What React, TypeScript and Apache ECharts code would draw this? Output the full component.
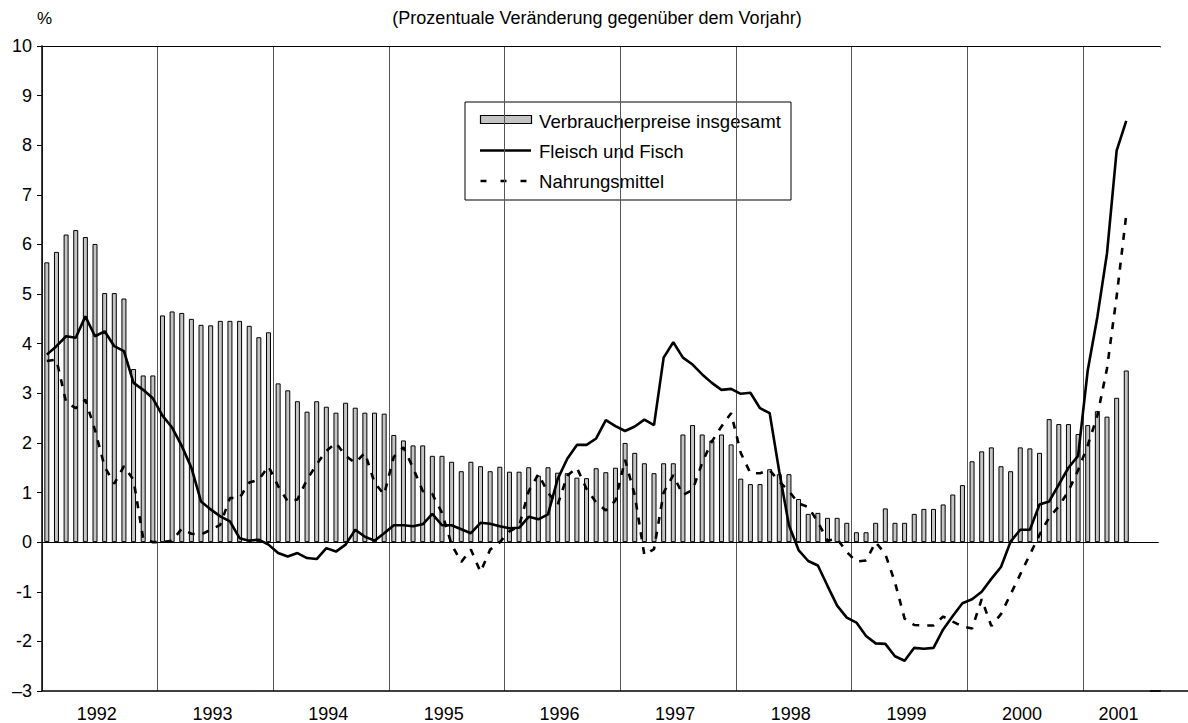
import React, { useEffect, useRef } from "react";
import * as echarts from "echarts";

const YEARS = ["1992", "1993", "1994", "1995", "1996", "1997", "1998", "1999", "2000", "2001"];
const MONTHS_IN_AXIS = [12, 12, 12, 12, 12, 12, 12, 12, 12, 8];

// Verbraucherpreise insgesamt (bars)
const consumerPrices = [
  5.64, 5.85, 6.2, 6.29, 6.15, 6.01, 5.02, 5.02, 4.91, 3.49, 3.36, 3.36,
  4.57, 4.65, 4.62, 4.5, 4.38, 4.37, 4.46, 4.46, 4.46, 4.36, 4.13, 4.23,
  3.2, 3.06, 2.84, 2.63, 2.84, 2.73, 2.61, 2.81, 2.71, 2.61, 2.61, 2.59,
  2.16, 2.05, 1.95, 1.95, 1.74, 1.74, 1.62, 1.43, 1.62, 1.53, 1.43, 1.52,
  1.42, 1.42, 1.51, 1.34, 1.51, 1.4, 1.39, 1.3, 1.29, 1.49, 1.41, 1.5,
  2.0, 1.8, 1.59, 1.39, 1.59, 1.59, 2.17, 2.36, 2.17, 2.05, 2.17, 1.97,
  1.28, 1.17, 1.17, 1.47, 1.37, 1.37, 0.87, 0.57, 0.59, 0.49, 0.49, 0.39,
  0.2, 0.2, 0.39, 0.68, 0.39, 0.39, 0.57, 0.67, 0.67, 0.76, 0.96, 1.15,
  1.63, 1.83, 1.91, 1.53, 1.43, 1.91, 1.89, 1.8, 2.48, 2.38, 2.38, 2.18,
  2.36, 2.64, 2.53, 2.91, 3.46,
];

// Fleisch und Fisch (solid line)
const meatFish = [
  3.78, 3.95, 4.15, 4.12, 4.55, 4.15, 4.25, 3.95, 3.85, 3.21, 3.07, 2.9,
  2.55, 2.31, 1.94, 1.5, 0.82, 0.66, 0.52, 0.42, 0.08, 0.03, 0.05, -0.05,
  -0.22, -0.29, -0.22, -0.32, -0.34, -0.12, -0.19, -0.05, 0.25, 0.11, 0.03, 0.18,
  0.34, 0.34, 0.32, 0.36, 0.57, 0.34, 0.34, 0.26, 0.18, 0.39, 0.37, 0.32,
  0.28, 0.29, 0.51, 0.46, 0.56, 1.27, 1.68, 1.96, 1.96, 2.09, 2.46, 2.34,
  2.24, 2.33, 2.47, 2.36, 3.72, 4.03, 3.72, 3.58, 3.38, 3.21, 3.07, 3.09,
  2.99, 3.01, 2.7, 2.6, 1.42, 0.34, -0.16, -0.38, -0.47, -0.88, -1.28, -1.52,
  -1.62, -1.89, -2.04, -2.05, -2.3, -2.39, -2.13, -2.15, -2.13, -1.76, -1.49, -1.23,
  -1.15, -1.0, -0.74, -0.5, 0.01, 0.25, 0.25, 0.76, 0.82, 1.16, 1.5, 1.74,
  3.46, 4.54, 5.82, 7.89, 8.49,
];

// Nahrungsmittel (dashed line)
const food = [
  3.65, 3.68, 2.82, 2.7, 2.87, 2.26, 1.52, 1.18, 1.53, 1.25, 0.07, 0.0,
  0.0, 0.03, 0.27, 0.17, 0.15, 0.25, 0.35, 0.89, 0.89, 1.2, 1.26, 1.53,
  1.13, 0.82, 0.86, 1.26, 1.57, 1.84, 2.0, 1.74, 1.6, 1.8, 1.2, 0.96,
  1.72, 1.91, 1.5, 1.03, 0.97, 0.59, -0.05, -0.4, -0.15, -0.6, -0.15, 0.0,
  0.22, 0.32, 1.03, 1.37, 1.0, 0.75, 1.34, 1.5, 1.07, 0.8, 0.64, 0.84,
  1.66, 0.95, -0.26, -0.14, 1.0, 1.35, 0.95, 1.05, 1.6, 2.03, 2.33, 2.6,
  1.8, 1.39, 1.39, 1.45, 1.22, 1.03, 0.78, 0.71, 0.41, 0.03, 0.07, -0.2,
  -0.39, -0.37, 0.0, -0.24, -0.81, -1.54, -1.67, -1.68, -1.68, -1.5, -1.6, -1.7,
  -1.74, -1.15, -1.69, -1.45, -1.05, -0.65, -0.25, 0.15, 0.5, 0.72, 1.03, 1.45,
  1.95, 2.55, 3.5, 4.95, 6.6,
];

const Y_TICK_LABELS: Record<string, string> = { "-3": "–3" };

const SERIES_NAMES = ["Verbraucherpreise insgesamt", "Fleisch und Fisch", "Nahrungsmittel"];
const SUBTITLE = "(Prozentuale Veränderung gegenüber dem Vorjahr)";
const UNIT = "%";

const FONT = "'Liberation Sans', Arial, Helvetica, sans-serif";
const BAR_FILL = "#c4c4c4";
const DASH = [7, 8];

export default function App() {
  const ref = useRef<HTMLDivElement>(null);

  useEffect(() => {
    if (!ref.current) return;
    const chart = echarts.init(ref.current, null, { renderer: "svg" });

    const categories: string[] = [];
    const labelIndex: Record<number, string> = {};
    let idx = 0;
    YEARS.forEach((y, yi) => {
      const n = MONTHS_IN_AXIS[yi];
      for (let m = 0; m < n; m++) {
        categories.push(y + "-" + String(m + 1).padStart(2, "0"));
      }
      labelIndex[idx + Math.floor(n / 2)] = y;
      idx += n;
    });
    const boundaries = new Set<number>();
    let acc = 0;
    MONTHS_IN_AXIS.forEach((n) => {
      boundaries.add(acc);
      acc += n;
    });

    const legendFont = `18.6px ${FONT}`;
    const legendGraphic = {
      type: "group",
      z: 100,
      children: [
        {
          type: "rect",
          shape: { x: 465, y: 102, width: 326, height: 98 },
          style: { fill: "#fff", stroke: "#000", lineWidth: 1 },
        },
        {
          type: "rect",
          shape: { x: 480.5, y: 115.5, width: 51, height: 8 },
          style: { fill: BAR_FILL, stroke: "#000", lineWidth: 1.2 },
        },
        {
          type: "text",
          x: 539,
          y: 121.5,
          style: { text: SERIES_NAMES[0], font: legendFont, fill: "#000", textVerticalAlign: "middle" },
        },
        {
          type: "line",
          shape: { x1: 480, y1: 150.5, x2: 531, y2: 150.5 },
          style: { stroke: "#000", lineWidth: 2.6 },
        },
        {
          type: "text",
          x: 539,
          y: 151,
          style: { text: SERIES_NAMES[1], font: legendFont, fill: "#000", textVerticalAlign: "middle" },
        },
        {
          type: "line",
          shape: { x1: 480.5, y1: 181, x2: 527, y2: 181 },
          style: { stroke: "#000", lineWidth: 2.6, lineDash: [6, 14] },
        },
        {
          type: "text",
          x: 539,
          y: 181,
          style: { text: SERIES_NAMES[2], font: legendFont, fill: "#000", textVerticalAlign: "middle" },
        },
      ],
    };

    const option: any = {
      animation: false,
      backgroundColor: "#ffffff",
      textStyle: { fontFamily: FONT },
      grid: { left: 42, right: 28, top: 46, bottom: 32, containLabel: false },
      graphic: [
        {
          type: "text",
          x: 37,
          y: 10,
          style: { text: UNIT, font: `17px ${FONT}`, fill: "#000" },
        },
        {
          type: "text",
          x: 597,
          y: 9,
          style: { text: SUBTITLE, font: `18px ${FONT}`, fill: "#000", textAlign: "center" },
        },
        {
          type: "line",
          z: 100,
          shape: { x1: 1160, y1: 47.5, x2: 1160, y2: 690 },
          style: { stroke: "#fff", lineWidth: 2.5 },
        },
        {
          type: "line",
          z: 101,
          shape: { x1: 1150, y1: 691, x2: 1188, y2: 691 },
          style: { stroke: "#000", lineWidth: 1.5 },
        },
        legendGraphic,
      ],
      xAxis: {
        type: "category",
        data: categories,
        boundaryGap: true,
        axisLine: { onZero: false, lineStyle: { color: "#000", width: 1.5 } },
        axisTick: { show: false },
        axisLabel: {
          interval: (i: number) => labelIndex[i] !== undefined,
          formatter: (_v: string, i: number) => labelIndex[i] || "",
          fontFamily: FONT,
          fontSize: 18,
          color: "#000",
          margin: 14,
          padding: [0, 15.6, 0, 0],
        },
        splitLine: {
          show: true,
          interval: (i: number) => boundaries.has(i),
          lineStyle: { color: "#555", width: 1 },
        },
      },
      yAxis: {
        type: "value",
        min: -3,
        max: 10,
        interval: 1,
        axisLine: { show: true, lineStyle: { color: "#000", width: 1.5 } },
        axisTick: { show: true, length: 5, lineStyle: { color: "#000" } },
        splitLine: { show: false },
        axisLabel: {
          fontFamily: FONT,
          fontSize: 18,
          color: "#000",
          margin: 10,
          formatter: (v: number) => Y_TICK_LABELS[String(v)] ?? String(v),
        },
      },
      series: [
        {
          name: SERIES_NAMES[0],
          type: "bar",
          data: consumerPrices,
          barWidth: 5,
          itemStyle: { color: BAR_FILL, borderColor: "#000", borderWidth: 1 },
          z: 2,
          markLine: {
            silent: true,
            symbol: "none",
            label: { show: false },
            lineStyle: { color: "#000", width: 1.2, type: "solid" },
            data: [{ yAxis: 0 }, { yAxis: 10 }],
          },
        },
        {
          name: SERIES_NAMES[1],
          type: "line",
          data: meatFish,
          symbol: "none",
          lineStyle: { color: "#000", width: 2.6 },
          itemStyle: { color: "#000" },
          z: 4,
        },
        {
          name: SERIES_NAMES[2],
          type: "line",
          data: food,
          symbol: "none",
          lineStyle: { color: "#000", width: 2.6, type: DASH },
          itemStyle: { color: "#000" },
          z: 3,
        },
      ],
    };

    chart.setOption(option);
    return () => chart.dispose();
  }, []);

  return (
    <div style={{ position: "absolute", left: 0, top: 0, width: 1188, height: 723, background: "#fff" }}>
      <div ref={ref} style={{ width: 1188, height: 723 }} />
    </div>
  );
}
